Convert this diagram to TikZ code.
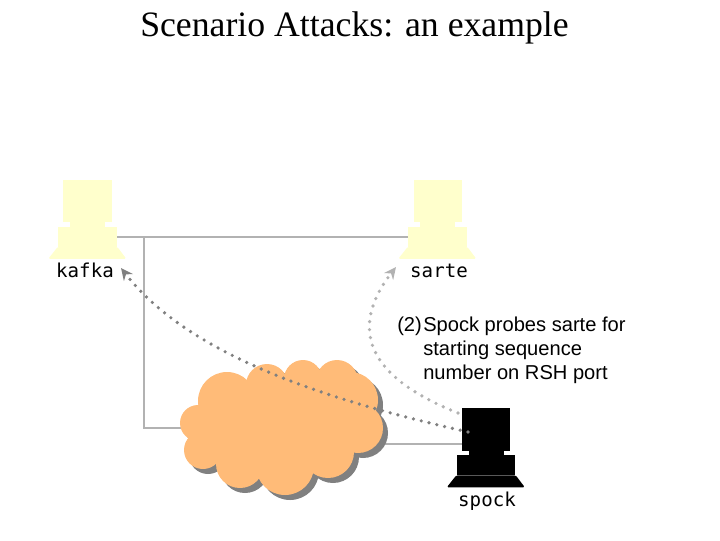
\documentclass[tikz,border=0pt]{standalone}
\usepackage{fontspec}
\setmainfont{Liberation Serif}
\setsansfont{Liberation Sans}
\setmonofont{DejaVu Sans Mono}
\usetikzlibrary{positioning, arrows.meta, calc}
\definecolor{hostpale}{RGB}{255,255,204}
\definecolor{cloudorange}{RGB}{255,187,120}
\definecolor{linkgrey}{RGB}{178,178,178}
\definecolor{probegrey}{RGB}{128,128,128}
\tikzset{
    monitor/.style={rectangle, inner sep=0pt, minimum width=1.2cm, minimum height=1.07cm},
    neck/.style={rectangle, inner sep=0pt, minimum width=0.875cm, minimum height=0.15cm},
    basebox/.style={rectangle, inner sep=0pt, minimum width=1.47cm, minimum height=0.5cm},
    hostlabel/.style={font=\ttfamily\fontsize{13.6}{16}\selectfont, anchor=base, inner sep=0pt},
    link/.style={draw=linkgrey, line width=1.4pt},
    probe/.style={-{Stealth[length=8.5pt, width=8pt]}, line width=2.6pt, line cap=round, dash pattern=on 0pt off 5.7pt},
    notetext/.style={font=\sffamily\fontsize{14.3}{17}\selectfont, anchor=base west, inner sep=0pt}
}
\begin{document}
\begin{tikzpicture}[x=0.025cm, y=-0.025cm]
    \useasboundingbox (0,0) rectangle (720,540);
    % Title
    \node[font=\fontsize{25.4}{30}\selectfont, anchor=base] (title) at (354.5,36) {Scenario Attacks: an example};

    % Network lines
    \coordinate (busjoint) at (144,237);
    \coordinate (sarteport) at (414,237);
    \coordinate (kafkaport) at (117,237);
    \coordinate (cloudport) at (360,444);
    \coordinate (spockport) at (462,444);
    \node[inner sep=0pt] (cloud) at (272,428) {};
    \draw[link] (kafkaport) -- (sarteport);
    \draw[link] (busjoint) |- (cloud);
    \draw[link] (cloudport) -- (spockport);

    % Cloud
    \foreach \dx/\col in {5/probegrey, 0/cloudorange} {
        \foreach \x/\y/\r in {198/423/18, 227/401/29, 267/385/21, 303/379/19, 337/381/21, 350/400/28,
                              358/428/25, 328/452/26, 285/466/29, 240/464/24, 203/450/19} {
            \fill[\col] (\x+\dx,\y+\dx) circle (\r*0.025cm);
        }
        \fill[\col] (225+\dx,385+\dx) rectangle (345+\dx,470+\dx);
        \fill[\col] (205+\dx,410+\dx) rectangle (368+\dx,448+\dx);
    }

    % Hosts
    \foreach \name/\x/\y/\lx/\col in {kafka/87.5/201/85/hostpale, sarte/437.5/201/439/hostpale, spock/486/429.5/487/black} {
        \node[monitor, fill=\col] (\name mon) at (\x,\y) {};
        \node[neck, fill=\col] (\name neck) at (\x,\y+23.5) {};
        \node[basebox, fill=\col] (\name base) at (\x,\y+35.5) {};
        \fill[\col, rounded corners=1pt] (\name base.south west) -- ++(-9.5,12) -- ++(78,0) -- (\name base.south east) -- cycle;
        \node[hostlabel] (\name) at (\lx,\y+76.5) {\name};
    }

    % Probes from spock
    \coordinate (spocksrc) at (468,432);
    \coordinate (spockup) at (458,413);
    \coordinate (kafkaend) at (121,268);
    \coordinate (sarteend) at (396,267);
    \draw[probe, color=probegrey] (spocksrc) .. controls (350,405) and (195,363) .. (kafkaend);
    \draw[probe, color=linkgrey] (spockup) .. controls (355,372) and (355,320) .. (sarteend);

    % Note
    \node[notetext] (step) at (397,331) {(2)};
    \node[notetext] (line1) at (423,331) {Spock probes sarte for};
    \node[notetext] (line2) at (423,355) {starting sequence};
    \node[notetext] (line3) at (423,379) {number on RSH port};
\end{tikzpicture}
\end{document}
